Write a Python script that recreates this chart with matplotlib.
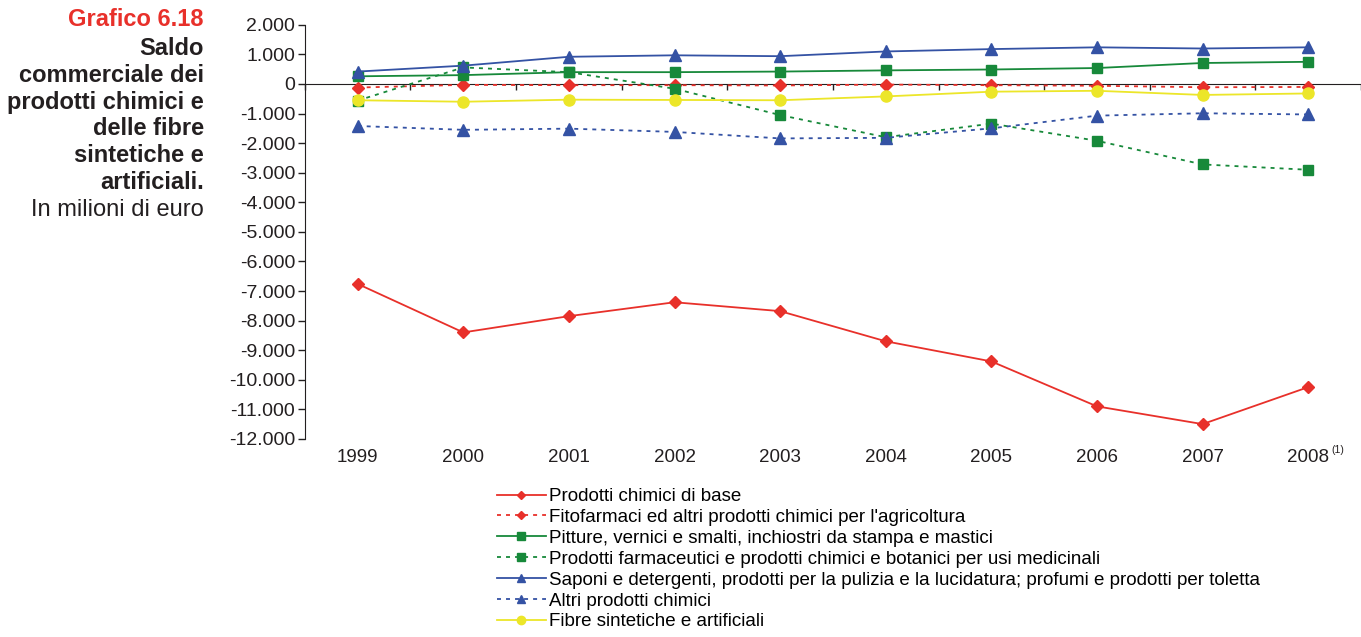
import numpy as np
import matplotlib
matplotlib.use('Agg')
import matplotlib.pyplot as plt
from matplotlib.ticker import FuncFormatter

plt.rcParams['font.family'] = ['Liberation Sans', 'DejaVu Sans']

# Data (milioni di euro)
years = ['1999', '2000', '2001', '2002', '2003', '2004', '2005', '2006', '2007', '2008']
base = [-6760, -8400, -7850, -7380, -7680, -8700, -9380, -10900, -11500, -10250]
fitofarmaci = [-120, -30, -40, -40, -50, -20, -40, -60, -110, -100]
pitture = [260, 300, 400, 400, 420, 460, 490, 540, 710, 750]
farmaceutici = [-560, 560, 400, -160, -1050, -1800, -1340, -1920, -2720, -2900]
saponi = [420, 620, 920, 970, 940, 1100, 1180, 1240, 1200, 1240]
altri = [-1420, -1550, -1510, -1620, -1840, -1820, -1500, -1070, -990, -1030]
fibre = [-550, -600, -530, -540, -550, -420, -260, -230, -370, -320]

labels = [
    'Prodotti chimici di base',
    "Fitofarmaci ed altri prodotti chimici per l'agricoltura",
    'Pitture, vernici e smalti, inchiostri da stampa e mastici',
    'Prodotti farmaceutici e prodotti chimici e botanici per usi medicinali',
    'Saponi e detergenti, prodotti per la pulizia e la lucidatura; profumi e prodotti per toletta',
    'Altri prodotti chimici',
    'Fibre sintetiche e artificiali',
]

red = '#e8302a'
green = '#17893a'
blue = '#3452a4'
yellow = '#ece629'
dark = '#231f20'
dots = (0, (2.2, 2.8))

styles = [
    (base, red, '-', 'D', 6),
    (fitofarmaci, red, dots, 'D', 6),
    (pitture, green, '-', 's', 7.5),
    (farmaceutici, green, dots, 's', 7.5),
    (saponi, blue, '-', '^', 8),
    (altri, blue, dots, '^', 8),
    (fibre, yellow, '-', 'o', 8),
]

fig = plt.figure(figsize=(13.61, 6.37), dpi=100)
ax = fig.add_axes([0.224, 0.311, 0.776, 0.650])

x = np.arange(len(years))
for (vals, c, ls, m, ms), lab in zip(styles, labels):
    ax.plot(x, vals, color=c, linestyle=ls, linewidth=1.3, marker=m,
            markersize=ms, markerfacecolor=c, markeredgecolor=c, label=lab)

ax.set_xlim(-0.5, len(years) - 0.5)
ax.set_ylim(-12000, 2000)
ax.set_yticks(np.arange(-12000, 2001, 1000))
ax.yaxis.set_major_formatter(FuncFormatter(lambda v, p: f'{int(v):,}'.replace(',', '.')))
ax.tick_params(axis='y', direction='out', length=5, width=1, labelsize=14,
               colors=dark, pad=2)
ax.set_xticks(x)
ax.set_xticklabels(years)
ax.tick_params(axis='x', length=0, labelsize=13.5, colors=dark, pad=7)
for s in ['top', 'right', 'bottom']:
    ax.spines[s].set_visible(False)
ax.spines['left'].set_color(dark)

# zero line with category boundary ticks
sec = ax.secondary_xaxis(0, transform=ax.transData)
sec.set_xticks(np.arange(-0.5, len(years), 1.0))
sec.set_xticklabels([])
sec.tick_params(direction='out', length=4, width=1, colors=dark)
sec.spines['bottom'].set_color(dark)

ax.annotate('(1)', xy=(len(years) - 1, 0), xycoords=('data', 'axes fraction'),
            xytext=(17, -8), textcoords='offset points', fontsize=7.5,
            color=dark, va='center', ha='left')

# title panel
tx = 204 / 1361
fig.text(tx, 1 - 20 / 637, 'Grafico 6.18', ha='right', va='center',
         fontsize=17, fontweight='bold', color=red)
title_lines = ['Saldo', 'commerciale dei', 'prodotti chimici e', 'delle fibre',
               'sintetiche e', 'artificiali.']
for i, t in enumerate(title_lines):
    fig.text(tx, 1 - (48.5 + 26.8 * i) / 637, t, ha='right', va='center',
             fontsize=17, fontweight='bold', color=dark)
fig.text(tx, 1 - 210 / 637, 'In milioni di euro', ha='right', va='center',
         fontsize=17, color=dark)

fig.legend(loc='upper left', bbox_to_anchor=(497 / 1361, 1 - 488 / 637),
           frameon=False, handlelength=2.6, handletextpad=0.15,
           labelspacing=0.2, borderaxespad=0, borderpad=0, markerscale=0.75,
           prop={'size': 13.5})

fig.savefig('out.png', dpi=100)
